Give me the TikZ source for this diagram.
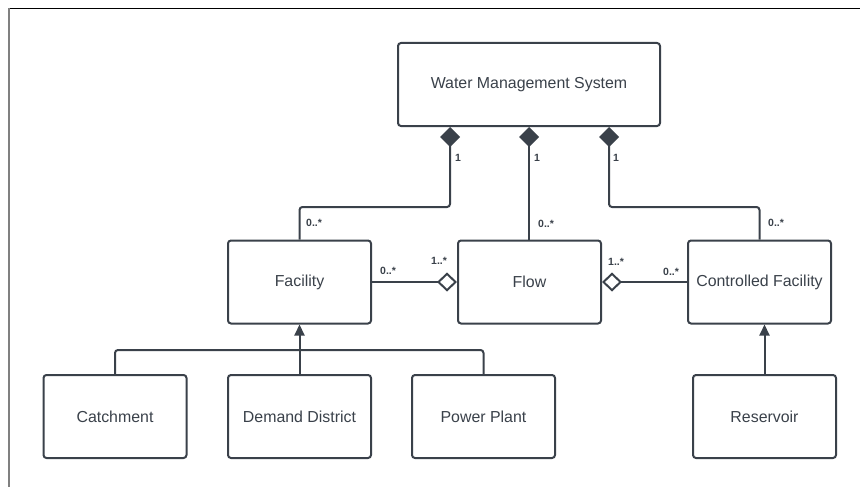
\documentclass[tikz,border=0pt]{standalone}
\usepackage{fontspec}
\setmainfont{Liberation Sans}
\usetikzlibrary{arrows.meta}
\definecolor{ink}{HTML}{3A414A}
\begin{document}
\begin{tikzpicture}[x=1pt,y=-1pt,
  cls/.style={draw=ink, line width=2pt, rounded corners=3pt, fill=white,
    minimum height=83pt, inner sep=0pt, text=ink,
    font=\fontsize{15.9}{18}\selectfont},
  small/.style={cls, minimum width=143pt},
  conn/.style={draw=ink, line width=2pt, rounded corners=3pt},
  comp/.style={conn, {Diamond[length=20pt,width=20pt,fill=ink]}-},
  aggrl/.style={conn, -{Diamond[open,length=20pt,width=19pt,fill=white]}},
  aggrr/.style={conn, {Diamond[open,length=20pt,width=19pt,fill=white]}-},
  inh/.style={conn, -{Triangle[length=11pt,width=10pt,fill=ink]}},
  mult/.style={anchor=west, inner sep=0pt, text=ink,
    font=\bfseries\fontsize{10.5}{12}\selectfont}]
\useasboundingbox (0,0) rectangle (860,487);
% frame
\draw[black, line width=1.2pt] (8,8.5) -- (860,8.5);
\draw[gray, line width=1.4pt] (9,8) -- (9,487);
% classes
\node[cls, minimum width=262pt] (wms) at (529,84.5) {Water Management System};
\node[small] (fac) at (299.5,282) {Facility};
\node[small] (flow) at (529.5,282) {Flow};
\node[small] (cf) at (759.5,282) {Controlled Facility};
\node[small] (catch) at (115,416.5) {Catchment};
\node[small] (dd) at (299.5,416.5) {Demand District};
\node[small] (pp) at (483.5,416.5) {Power Plant};
\node[small] (res) at (764.5,416.5) {Reservoir};
% composition
\draw[comp] ([xshift=-79pt]wms.south) -- ++(0,80) -| (fac.north);
\draw[comp] (wms.south) -- (wms.south |- flow.north);
\draw[comp] ([xshift=80pt]wms.south) -- ++(0,80) -| (cf.north);
% aggregation
\draw[aggrl] (fac.east) -- (flow.west);
\draw[aggrr] (flow.east) -- (cf.west);
% inheritance
\coordinate (j) at (299.5,350);
\draw[conn] (catch.north) |- (j) -| (pp.north);
\draw[inh] (dd.north) -- (fac.south);
\draw[inh] (res.north) -- (res.north |- cf.south);
% multiplicities
\node[mult] (m1) at (455,158) {1};
\node[mult] (m2) at (534,158) {1};
\node[mult] (m3) at (613,158) {1};
\node[mult] (m4) at (306,223) {0..*};
\node[mult] (m5) at (538,224) {0..*};
\node[mult] (m6) at (768,223) {0..*};
\node[mult] (m7) at (380,271) {0..*};
\node[mult] (m8) at (431,261) {1..*};
\node[mult] (m9) at (608,262) {1..*};
\node[mult] (m10) at (663,272) {0..*};
\end{tikzpicture}
\end{document}
